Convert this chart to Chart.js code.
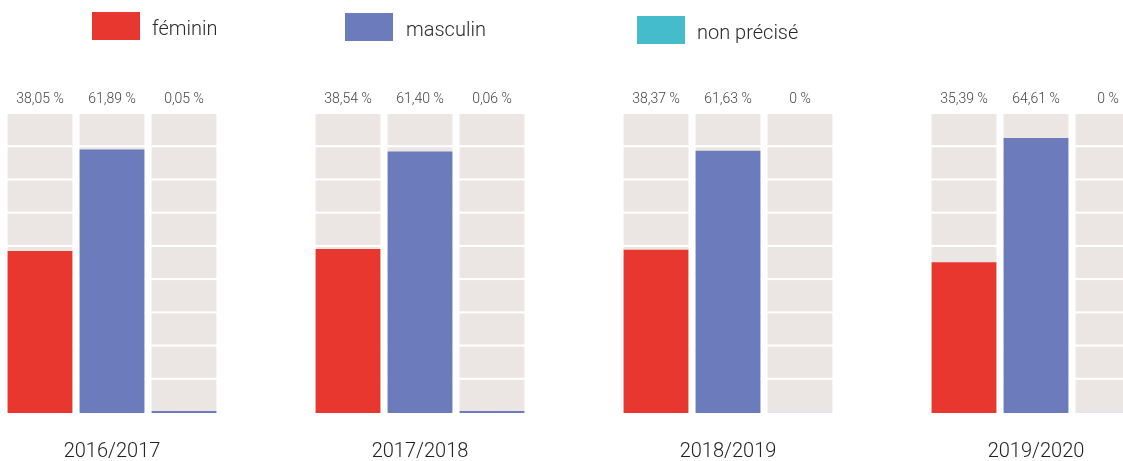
<!DOCTYPE html>
<html>
<head>
<meta charset="utf-8">
<script src="https://cdn.jsdelivr.net/npm/chart.js@4/dist/chart.umd.min.js"></script>
<style>
  html, body { margin: 0; padding: 0; width: 1123px; height: 461px; overflow: hidden; background: #fff; }
  #wrap { position: absolute; left: -42px; top: 0; width: 1232px; height: 493px; }
  .lg { position: absolute; font-family: Roboto, "Liberation Sans", sans-serif; font-weight: 300; font-size: 20px; color: #2a2a2a; white-space: nowrap; }
  .sw { position: absolute; width: 48px; height: 28px; }
</style>
</head>
<body>
<div id="wrap"><canvas id="c" width="1232" height="493"></canvas></div>
<div class="sw" style="left:92px;top:12px;background:#e8372e"></div>
<div class="lg" style="left:152px;top:16px">féminin</div>
<div class="sw" style="left:345px;top:13px;background:#6b7bbb"></div>
<div class="lg" style="left:406px;top:17px">masculin</div>
<div class="sw" style="left:637px;top:16px;background:#45bccc"></div>
<div class="lg" style="left:697px;top:20px">non précisé</div>
<script>
const years = ['2016/2017', '2017/2018', '2018/2019', '2019/2020'];
const feminin = [38.05, 38.54, 38.37, 35.39];
const masculin = [61.89, 61.40, 61.63, 64.61];
const nonPrecise = [0.05, 0.06, 0, 0];
const seriesLabels = ['féminin', 'masculin', 'non précisé'];
const yMax = 70;

function fmt(v) {
  if (v === 0) return '0 %';
  return v.toFixed(2).replace('.', ',') + ' %';
}

const cellsPlugin = {
  id: 'cells',
  beforeDatasetsDraw(chart) {
    const ctx = chart.ctx;
    const y = chart.scales.y;
    const top = y.getPixelForValue(yMax) - 1;
    const bottom = y.getPixelForValue(0) - 2;
    const n = 9, gap = 2;
    const h = (bottom - top + gap) / n;
    ctx.save();
    ctx.fillStyle = '#ebe6e3';
    chart.data.datasets.forEach((ds, di) => {
      const meta = chart.getDatasetMeta(di);
      meta.data.forEach(el => {
        const p = el.getProps(['x', 'width'], true);
        const left = p.x - p.width / 2;
        for (let k = 0; k < n; k++) {
          const t = top + k * h;
          ctx.fillRect(left, t, p.width, h - gap);
        }
      });
    });
    ctx.restore();
  },
  afterDatasetsDraw(chart) {
    const ctx = chart.ctx;
    ctx.save();
    ctx.font = '300 14px Roboto, "Liberation Sans", sans-serif';
    ctx.fillStyle = '#444';
    ctx.textAlign = 'center';
    ctx.textBaseline = 'middle';
    chart.data.datasets.forEach((ds, di) => {
      const meta = chart.getDatasetMeta(di);
      meta.data.forEach((el, i) => {
        const p = el.getProps(['x'], true);
        ctx.fillText(fmt(ds.data[i]), p.x, 99);
      });
    });
    ctx.restore();
  }
};

new Chart(document.getElementById('c'), {
  type: 'bar',
  data: {
    labels: years,
    datasets: [
      { label: seriesLabels[0], data: feminin, backgroundColor: '#e8372e', borderWidth: 0 },
      { label: seriesLabels[1], data: masculin, backgroundColor: '#6b7bbb', borderWidth: 0 },
      { label: seriesLabels[2], data: nonPrecise, minBarLength: 2,
        backgroundColor: c => (c.raw > 0 ? '#6b7bbb' : '#e6e4f2'), borderWidth: 0 }
    ]
  },
  options: {
    responsive: false,
    animation: false,
    categoryPercentage: 216 / 308,
    barPercentage: 0.9,
    layout: { padding: { top: 115, bottom: 2, left: 0, right: 0 } },
    plugins: { legend: { display: false }, tooltip: { enabled: false } },
    scales: {
      x: {
        grid: { display: false, drawTicks: false },
        border: { display: false },
        ticks: { padding: 27, color: '#222', font: { family: 'Roboto, "Liberation Sans", sans-serif', size: 20, weight: 300 } }
      },
      y: { display: false, min: 0, max: yMax }
    }
  },
  plugins: [cellsPlugin]
});
</script>
</body>
</html>
